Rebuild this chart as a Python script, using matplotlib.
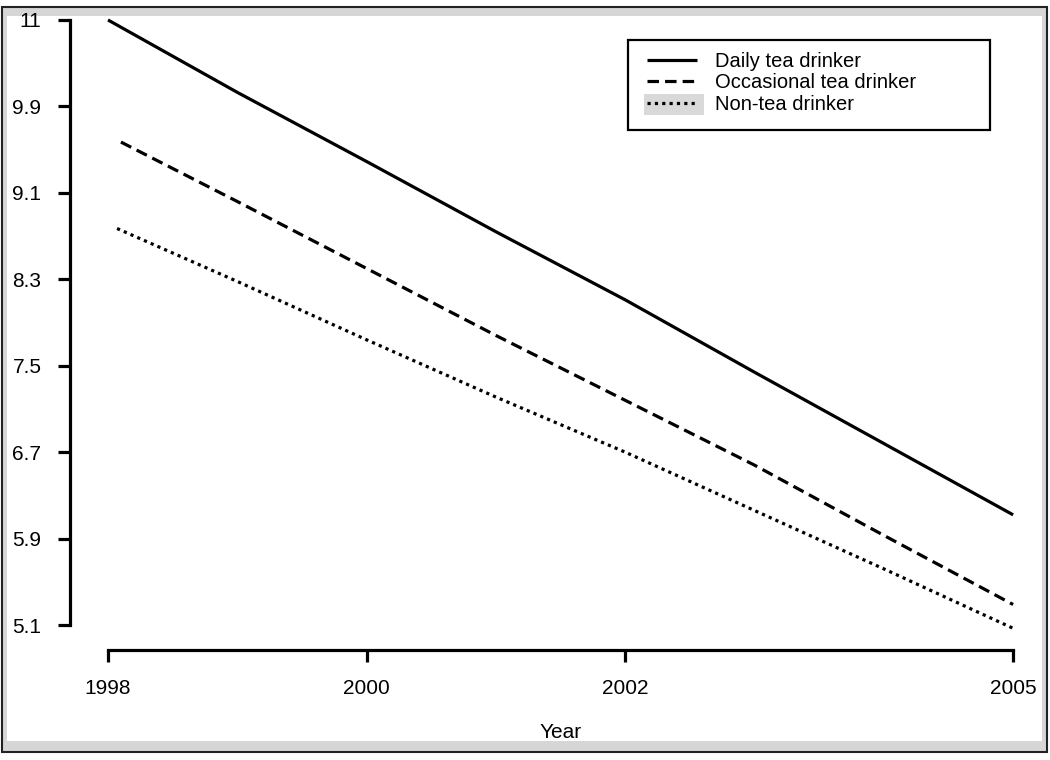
import matplotlib.pyplot as plt
from matplotlib.patches import Rectangle

plt.rcParams['font.family'] = ['Liberation Sans', 'DejaVu Sans']

# values
daily_years = [1998, 1999, 2000, 2001, 2002, 2003, 2004, 2005]
daily = [10.70, 10.03, 9.39, 8.74, 8.11, 7.44, 6.78, 6.12]

occ_years = [1998.1, 1999, 2000, 2001, 2002, 2003, 2004, 2005]
occasional = [9.57, 9.02, 8.40, 7.78, 7.18, 6.58, 5.93, 5.29]

non_years = [1998.07, 1999, 2000, 2001, 2002, 2003, 2004, 2005]
non_tea = [8.77, 8.28, 7.74, 7.21, 6.70, 6.16, 5.62, 5.07]

x_ticks = [1998, 2000, 2002, 2005]
y_ticks = [5.1, 5.9, 6.7, 7.5, 8.3, 9.1, 9.9, 10.7]
y_tick_labels = ["5.1", "5.9", "6.7", "7.5", "8.3", "9.1", "9.9", "11"]
labels = ["Daily tea drinker", "Occasional tea drinker", "Non-tea drinker"]

W, H = 1050, 760
fig = plt.figure(figsize=(W / 100, H / 100), dpi=100)

def fr(x0, y0, x1, y1):
    # pixel box (top-left origin) -> figure fraction rect
    return (x0 / W, 1 - y1 / H), (x1 - x0) / W, (y1 - y0) / H

# outer frame with grey band
xy, w, h = fr(2, 7, 1047, 752)
fig.add_artist(Rectangle(xy, w, h, transform=fig.transFigure, facecolor='#d6d6d6',
                         edgecolor='#222222', lw=1.5, zorder=-2))
xy, w, h = fr(7, 16, 1042, 741)
fig.add_artist(Rectangle(xy, w, h, transform=fig.transFigure, facecolor='white',
                         edgecolor='none', zorder=-1))

ax = fig.add_axes([70 / W, 1 - 650 / H, (1025 - 70) / W, (650 - 15) / H])
ax.set_facecolor('none')

lw = 2.3
ax.plot(daily_years, daily, color='black', lw=lw, solid_capstyle='butt', label=labels[0])
ax.plot(occ_years, occasional, color='black', lw=lw, linestyle=(0, (3.6, 1.9)), label=labels[1])
ax.plot(non_years, non_tea, color='black', lw=lw, linestyle=(0, (1.0, 1.3)), label=labels[2])

xlim = (1997.706, 2005.092)
ylim = (4.869, 10.746)
ax.set_xlim(*xlim)
ax.set_ylim(*ylim)

for s in ['top', 'right']:
    ax.spines[s].set_visible(False)
for s in ['left', 'bottom']:
    ax.spines[s].set_linewidth(2.3)
ax.spines['left'].set_bounds(y_ticks[0], y_ticks[-1])
ax.spines['bottom'].set_bounds(x_ticks[0], x_ticks[-1])

ax.set_xticks(x_ticks)
ax.set_xticklabels([str(t) for t in x_ticks])
ax.set_yticks(y_ticks)
ax.set_yticklabels(y_tick_labels)
ax.tick_params(axis='both', length=8.6, width=2.3, labelsize=15, pad=12, colors='black')

ax.set_xlabel("Year", fontsize=15, va='center')
xc = (sum(x_ticks[::3]) / 2 - xlim[0]) / (xlim[1] - xlim[0])
ax.xaxis.set_label_coords(xc, -(733 - 650) / (650 - 15))

# legend frame and grey highlight behind the dotted key
xy, w, h = fr(628, 40, 990, 130)
ax.add_patch(Rectangle(xy, w, h, transform=fig.transFigure, facecolor='white',
                       edgecolor='black', lw=1.6, clip_on=False, zorder=3))
xy, w, h = fr(644, 94, 704, 115)
ax.add_patch(Rectangle(xy, w, h, transform=fig.transFigure, facecolor='#d9d9d9',
                       edgecolor='none', clip_on=False, zorder=4))

ax.legend(loc='upper left', bbox_to_anchor=(647 / W, 1 - 52 / H),
          bbox_transform=fig.transFigure, frameon=False, fontsize=14.5,
          handlelength=2.5, handletextpad=0.9, labelspacing=0.12,
          borderpad=0, borderaxespad=0)

fig.savefig("out.png", dpi=100)
